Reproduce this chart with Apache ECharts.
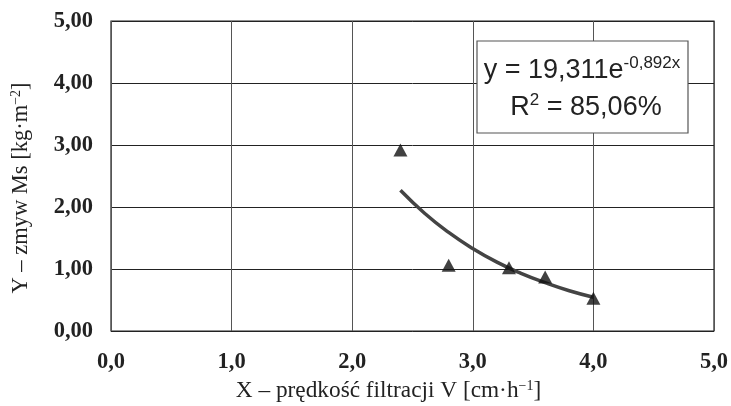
<!DOCTYPE html>
<html><head><meta charset="utf-8">
<script src="https://cdn.jsdelivr.net/npm/echarts@6/dist/echarts.min.js"></script>
<style>html,body{margin:0;padding:0;background:#fff}#c{width:731px;height:406px}</style>
</head><body><div id="c"></div>
<script>
// measured points
const pointX = [2.4, 2.8, 3.3, 3.6, 4.0];
const pointY = [2.92, 1.06, 1.02, 0.87, 0.53];
// trend curve
const curveX = [2.4, 2.6, 2.8, 3.0, 3.2, 3.4, 3.6, 3.8, 4.0];
const curveY = [2.27, 1.90, 1.59, 1.33, 1.11, 0.93, 0.78, 0.65, 0.545];
const xTicks = [0, 1, 2, 3, 4, 5];
const yTicks = [0, 1, 2, 3, 4, 5];

const chart = echarts.init(document.getElementById('c'));
const serif = '"Liberation Serif", "Times New Roman", serif';
const sans = '"Liberation Sans", Arial, sans-serif';
chart.setOption({
  animation: false,
  backgroundColor: '#fff',
  grid: {left: 111, top: 21, right: 17, bottom: 75, show: true, borderColor: '#222', borderWidth: 1.2,
         outerBoundsMode: 'none', containLabel: false},
  xAxis: {
    type: 'value', min: xTicks[0], max: xTicks[xTicks.length-1], interval: 1,
    axisLine: {show: false}, axisTick: {show: false},
    splitLine: {show: true, lineStyle: {color: '#555', width: 1}},
    axisLabel: {fontFamily: serif, fontWeight: 'bold', fontSize: 22.5, color: '#222', margin: 20,
      formatter: v => v.toFixed(1).replace('.', ',')},
    name: '{t|X – prędkość filtracji V [cm·h}{s|−1}{t|]}',
    nameLocation: 'middle', nameGap: 45,
    nameTextStyle: {padding: [0, 48, 0, 0], rich: {
      t: {fontFamily: serif, fontSize: 23.3, color: '#222'},
      s: {fontFamily: serif, fontSize: 14, color: '#222', padding: [0,0,10,0]}
    }}
  },
  yAxis: {
    type: 'value', min: yTicks[0], max: yTicks[yTicks.length-1], interval: 1,
    axisLine: {show: false}, axisTick: {show: false},
    splitLine: {show: true, lineStyle: {color: '#222', width: 1}},
    axisLabel: {fontFamily: serif, fontWeight: 'bold', fontSize: 22.5, color: '#222', margin: 18,
      formatter: v => v.toFixed(2).replace('.', ',')},
    name: '{t|Y – zmyw Ms [kg·m}{s|−2}{t|]}',
    nameLocation: 'middle', nameGap: 78, nameRotate: 90,
    nameTextStyle: {padding: [0, 24, 0, 0], rich: {
      t: {fontFamily: serif, fontSize: 22.5, color: '#222'},
      s: {fontFamily: serif, fontSize: 14, color: '#222', padding: [0,0,10,0]}
    }}
  },
  series: [
    {type: 'line', data: curveX.map((x, i) => [x, curveY[i]]), smooth: true, symbol: 'none',
     lineStyle: {color: '#444', width: 3.5}, z: 2},
    {type: 'scatter', data: pointX.map((x, i) => [x, pointY[i]]), symbol: 'triangle', symbolSize: [14, 13],
     itemStyle: {color: '#111'}, z: 3}
  ],
  graphic: [
    {type: 'rect', shape: {x: 477, y: 41, width: 211, height: 92},
     style: {fill: '#fff', stroke: '#555', lineWidth: 1.2}, z: 10},
    {type: 'text', x: 582, y: 71, z: 11,
     style: {text: '{a|y = 19,311e}{b|-0,892x}', align: 'center', verticalAlign: 'middle',
       rich: {a: {fontFamily: sans, fontSize: 27, fill: '#222'},
              b: {fontFamily: sans, fontSize: 17, fill: '#222', padding: [0,0,16,0]}}}},
    {type: 'text', x: 586, y: 108, z: 11,
     style: {text: '{a|R}{b|2}{a| = 85,06%}', align: 'center', verticalAlign: 'middle',
       rich: {a: {fontFamily: sans, fontSize: 27, fill: '#222'},
              b: {fontFamily: sans, fontSize: 17, fill: '#222', padding: [0,0,16,0]}}}}
  ]
});
</script></body></html>
